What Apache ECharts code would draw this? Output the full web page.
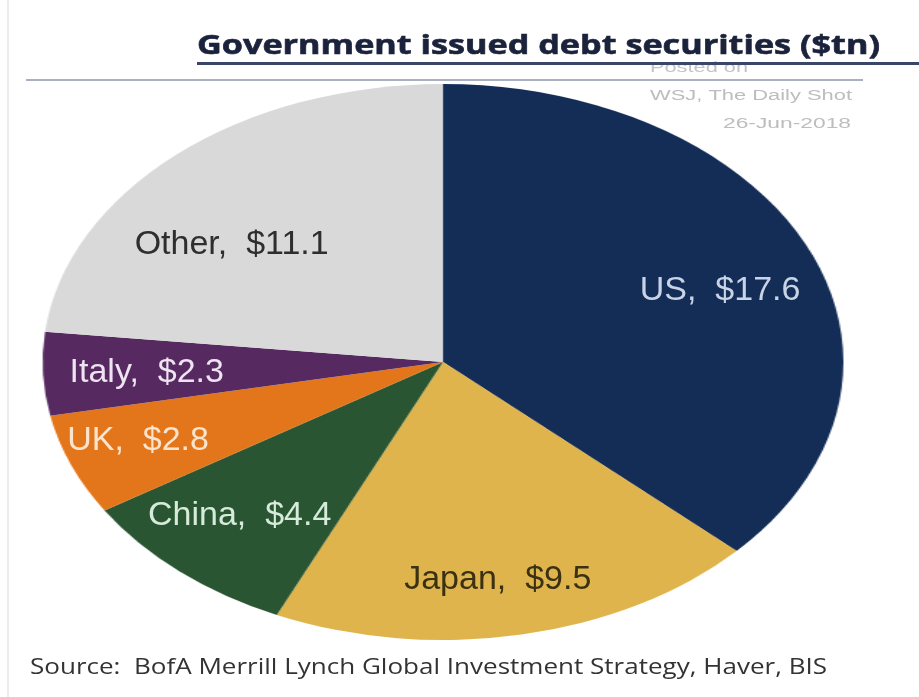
<!DOCTYPE html>
<html>
<head>
<meta charset="utf-8">
<script src="https://cdn.jsdelivr.net/npm/echarts@6/dist/echarts.min.js"></script>
<style>
  html, body { margin: 0; padding: 0; background: #ffffff; overflow: hidden; }
  #stage { position: relative; width: 919px; height: 697px; overflow: hidden; background: #ffffff; }
  /* the slices are drawn round and stretched sideways into an ellipse */
  #pie { position: absolute; left: 0; top: 0; width: 919px; height: 697px;
         transform: scaleX(1.44); transform-origin: 443px 362px; }
  #overlay { position: absolute; left: 0; top: 0; width: 919px; height: 697px; }
</style>
</head>
<body>
<div id="stage">
  <div id="pie"></div>
  <div id="overlay"></div>
</div>
<script>
// Government issued debt securities, trillions of US dollars
const countries = ['US', 'Japan', 'China', 'UK', 'Italy', 'Other'];
const debtTn = [17.6, 9.5, 4.4, 2.8, 2.3, 11.1];

const titleText = 'Government issued debt securities ($tn)';
const sourceText = 'Source:  BofA Merrill Lynch Global Investment Strategy, Haver, BIS';
const stampLines = ['Posted on', 'WSJ, The Daily Shot', '26-Jun-2018'];

const sliceColors = {
  US: '#142d57', Japan: '#dfb44c', China: '#2a5532',
  UK: '#e3761b', Italy: '#562a60', Other: '#d9d9d9'
};
const labelColors = {
  US: '#c9d3e6', Japan: '#3a3113', China: '#d6ebd9',
  UK: '#fbe3cc', Italy: '#ede3f1', Other: '#2e2e2e'
};

const STRETCH = 1.44;          // horizontal stretch of the pie
const CX = 443, CY = 362, R = 278;

// small hand nudges for some labels
const labelNudge = {
  US: [-2, 13], Japan: [-5, 10], China: [-3, -6],
  UK: [-22, 0], Italy: [8, 2], Other: [-8, 40]
};

const slices = countries.map((c, i) => ({
  name: c,
  value: debtTn[i],
  itemStyle: { color: sliceColors[c] }
}));

// width-fitting helper for the stretched headline texts
const measureCtx = document.createElement('canvas').getContext('2d');
function fitScale(text, font, target) {
  measureCtx.font = font;
  return target / measureCtx.measureText(text).width;
}

// --- slices ---
const pieChart = echarts.init(document.getElementById('pie'), null, { renderer: 'canvas' });
pieChart.setOption({
  animation: false,
  backgroundColor: 'transparent',
  series: [{
    type: 'pie',
    silent: true,
    center: [CX, CY],
    radius: [0, R],
    startAngle: 90,
    clockwise: true,
    label: { show: false },
    labelLine: { show: false },
    itemStyle: { borderWidth: 0 },
    data: slices
  }]
});

// --- text layer ---
const titleFont = 'bold 27px "Open Sans"';
const sourceFont = '21px "Open Sans"';
const stampFont = '14px "Liberation Sans"';

const overlay = echarts.init(document.getElementById('overlay'), null, { renderer: 'canvas' });
overlay.setOption({
  animation: false,
  backgroundColor: 'transparent',
  graphic: [
    { type: 'line', silent: true, shape: { x1: 8, y1: 0, x2: 8, y2: 697 },
      style: { stroke: '#e6e6e6', lineWidth: 1.5 } },
    { type: 'line', silent: true, shape: { x1: 26, y1: 80, x2: 863, y2: 80 },
      style: { stroke: '#8c97a8', lineWidth: 1.5 }, z: 5 },
    { type: 'text', silent: true, x: 650, y: 68, scaleX: fitScale(stampLines[0], stampFont, 98), z: 4,
      style: { text: stampLines[0], font: stampFont, fill: '#c4c4c4', align: 'left', verticalAlign: 'middle' } },
    { type: 'text', silent: true, x: 852, y: 96, scaleX: fitScale(stampLines[1], stampFont, 202),
      style: { text: stampLines[1], font: stampFont, fill: '#bdbdbd', align: 'right', verticalAlign: 'middle' } },
    { type: 'text', silent: true, x: 851, y: 124, scaleX: fitScale(stampLines[2], stampFont, 128),
      style: { text: stampLines[2], font: stampFont, fill: '#bdbdbd', align: 'right', verticalAlign: 'middle' } },
    { type: 'text', silent: true, x: 197, y: 46, scaleX: fitScale(titleText, titleFont, 683), z: 6,
      style: { text: titleText, font: titleFont, fill: '#1b223b', align: 'left', verticalAlign: 'middle',
               stroke: '#1b223b', lineWidth: 0.6 } },
    { type: 'rect', silent: true, shape: { x: 197, y: 62, width: 722, height: 3 }, z: 6,
      style: { fill: '#3a4667' } },
    { type: 'text', silent: true, x: 30, y: 668, scaleX: fitScale(sourceText, sourceFont, 797),
      style: { text: sourceText, font: sourceFont, fill: '#333333', align: 'left', verticalAlign: 'middle' } }
  ],
  series: [{
    type: 'pie',
    silent: true,
    center: [CX, CY],
    // invisible ring whose inside label sits at 3/4 of the visible radius
    radius: [0, R * 1.5],
    startAngle: 90,
    clockwise: true,
    itemStyle: { color: 'rgba(0,0,0,0)' },
    labelLine: { show: false },
    label: {
      show: true,
      position: 'inside',
      fontFamily: 'Liberation Sans',
      fontSize: 34,
      formatter: p => p.name + ',  $' + p.value.toFixed(1),
      color: '#fff'
    },
    labelLayout: function (params) {
      const r = params.labelRect;
      const name = countries[params.dataIndex];
      const nudge = labelNudge[name] || [0, 0];
      const mx = r.x + r.width / 2;
      const my = r.y + r.height / 2;
      return {
        x: CX + (mx - CX) * STRETCH + nudge[0],
        y: my + nudge[1],
        align: 'center',
        verticalAlign: 'middle'
      };
    },
    data: countries.map((c, i) => ({
      name: c,
      value: debtTn[i],
      label: { color: labelColors[c] }
    }))
  }]
});
</script>
</body>
</html>
